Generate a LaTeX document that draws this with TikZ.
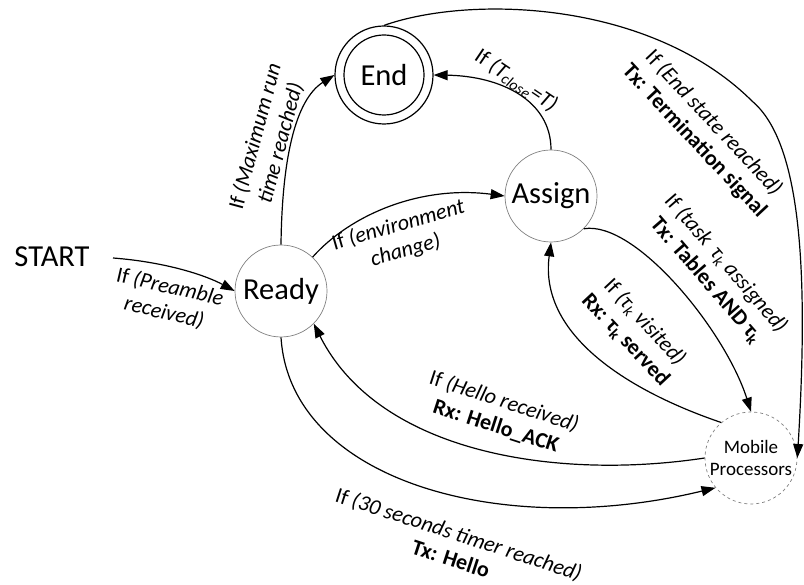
\documentclass[tikz,border=0pt]{standalone}
\usepackage{fontspec}
\setmainfont{Carlito}
\usetikzlibrary{arrows.meta}
\begin{document}
\begin{tikzpicture}[x=1pt,y=-1pt,
  state/.style={circle, draw=black!50, line width=0.7pt, minimum size=92pt, inner sep=0pt,
    font=\fontsize{30.5}{34}\selectfont},
  edge/.style={line width=1.2pt, -{Triangle[length=14pt,width=10pt]}},
  lbl/.style={align=center, inner sep=0pt, font=\fontsize{22}{26}\selectfont}]
\useasboundingbox (0,0) rectangle (804,585);

% states
\node[font=\fontsize{30.5}{34}\selectfont] (start) at (52,257) {START};
\node[state] (ready) at (281,291) {Ready};
\node[state] (assign) at (551,196) {Assign};
\node[state, draw=black, line width=1.2pt, minimum size=98pt] (end) at (384,75) {End};
\draw[line width=1.2pt] (end.center) circle[radius=40];
\node[state, dashed, align=center, font=\fontsize{19}{22}\selectfont] (mobile) at (751,458) {Mobile\\Processors};
\coordinate (s0) at (113,258);
\coordinate (bend) at (752,101);

% transitions
\draw[edge] (s0) .. controls (165,262) and (205,275) .. (ready.west);
\node[lbl, rotate=-13] (l1) at (167,300) {If \textit{(Preamble}\\\textit{received)}};

\draw[edge] (ready.north) .. controls (282,160) and (295,100) .. (end.west);
\node[lbl, rotate=75] (l2) at (268,140) {If \textit{(Maximum run}\\\textit{time reached)}};

\draw[edge] (ready.47) .. controls (350,215) and (420,185) .. (assign.west);
\node[lbl, rotate=16] (l3) at (402,238) {If \textit{(environment}\\\textit{change)}};

\draw[edge] (assign.north) .. controls (551,100) and (500,76) .. (end.east);
\node[lbl, rotate=-34] (l4) at (516,81) {If \textit{(T\textsubscript{close}=T)}};

\draw[edge] (end.north) .. controls (470,-5) and (650,0) .. (bend)
  .. controls (797,139) and (810,250) .. (mobile.east);
\node[lbl, rotate=-47] (l5) at (704,132) {If \textit{(End state reached)}\\\textbf{Tx: Termination signal}};

\draw[edge] (assign.-45) .. controls (635,220) and (725,330) .. (mobile.north);
\node[lbl, rotate=-49] (l6) at (716,272) {If \textit{(task\, τ\textsubscript{k} assigned)}\\\textbf{Tx: Tables AND τ\textsubscript{k}}};

\draw[edge] (mobile.130) .. controls (640,395) and (538,340) .. (assign.south);
\node[lbl, rotate=-47] (l7) at (635,331) {If \textit{(τ\textsubscript{k} visited)}\\\textbf{Rx: τ\textsubscript{k} served}};

\draw[edge] (mobile.west) .. controls (560,480) and (380,455) .. (ready.-45);
\node[lbl, rotate=-18] (l8) at (500,414) {If \textit{(Hello received)}\\\textbf{Rx: Hello\_ACK}};

\draw[edge] (ready.south) .. controls (290,480) and (500,540) .. (mobile.-140);
\node[lbl, rotate=-18] (l9) at (455,546) {If \textit{(30 seconds timer reached)}\\\textbf{Tx: Hello}};
\end{tikzpicture}
\end{document}
